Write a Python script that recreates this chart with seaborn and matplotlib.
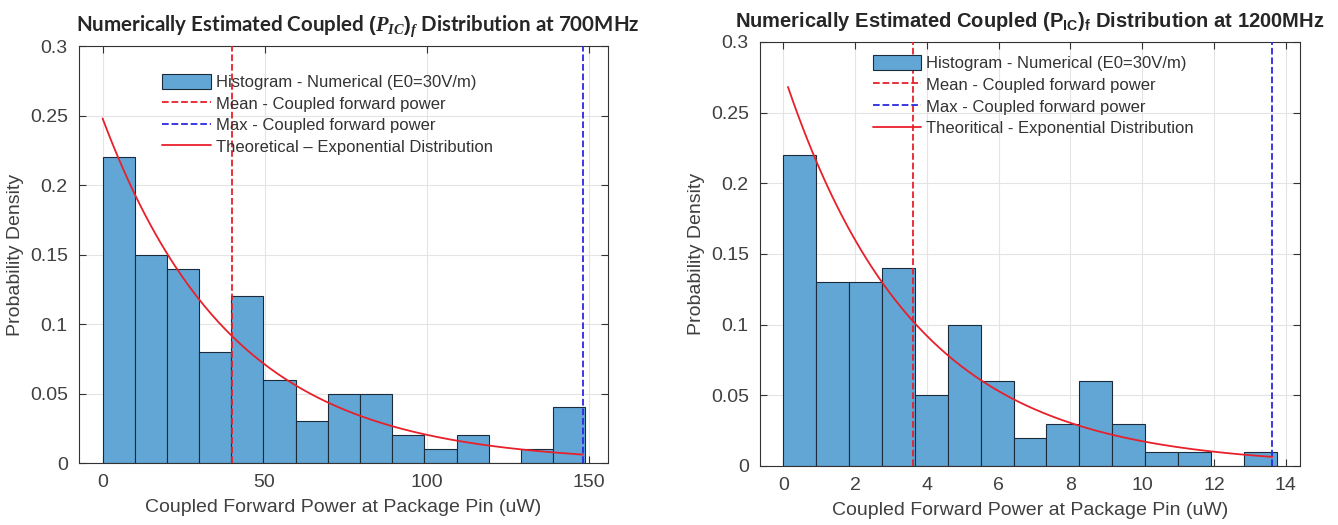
import numpy as np
import pandas as pd
import matplotlib
matplotlib.use('Agg')
import matplotlib.pyplot as plt
import seaborn as sns
from matplotlib.patches import Patch
from matplotlib.lines import Line2D

# values
# 700 MHz panel
p700_heights = [0.22, 0.15, 0.14, 0.08, 0.12, 0.06, 0.03, 0.05, 0.05, 0.02, 0.01, 0.02, 0.0, 0.01, 0.04]
p700_bin_end = 149.0
p700_max = 148.3
p700_mean = 40.0
p700_amp = 0.248      # curve value at x=0
p700_curve_start = 0.0

# 1200 MHz panel
p1200_heights = [0.22, 0.13, 0.13, 0.14, 0.05, 0.10, 0.06, 0.02, 0.03, 0.06, 0.03, 0.01, 0.01, 0.0, 0.01]
p1200_bin_end = 13.75
p1200_max = 13.63
p1200_mean = 3.62
p1200_amp = 0.278
p1200_curve_start = 0.13

legend_labels_700 = ['Histogram - Numerical (E0=30V/m)', 'Mean - Coupled forward power',
                     'Max - Coupled forward power', 'Theoretical \u2013 Exponential Distribution']
legend_labels_1200 = ['Histogram - Numerical (E0=30V/m)', 'Mean - Coupled forward power',
                      'Max - Coupled forward power', 'Theoritical - Exponential Distribution']

title_700 = r'Numerically Estimated Coupled $(P_{IC})_f$ Distribution at 700MHz'
title_1200 = r'Numerically Estimated Coupled $(\mathrm{P}_{\mathrm{IC}})_{\mathrm{f}}$ Distribution at 1200MHz'
xlabel = 'Coupled Forward Power at Package Pin (uW)'
ylabel = 'Probability Density'

sns.set_theme(style='ticks')
plt.rcParams['font.family'] = ['Liberation Sans', 'DejaVu Sans']
plt.rcParams['mathtext.fontset'] = 'custom'
plt.rcParams['mathtext.rm'] = 'Liberation Sans:bold'
plt.rcParams['mathtext.it'] = 'Liberation Serif:italic:bold'
plt.rcParams['mathtext.bf'] = 'Liberation Sans:bold'

bar_color = '#62a6d6'
edge_color = '#1c2b3a'
red = '#e8202a'
blue = '#2a2ae0'
text_gray = '#404040'

fig = plt.figure(figsize=(13.38, 5.25), dpi=100)
ax1 = fig.add_axes([0.059, 0.118, 0.3954, 0.794])
ax2 = fig.add_axes([0.568, 0.1124, 0.4036, 0.8076])


def draw_panel(ax, heights, bin_end, vmax, vmean, amp, cstart, labels, title, xlim, xticks,
               title_font, title_size, title_x, leg_anchor, ylabelpad):
    edges = np.linspace(0, bin_end, len(heights) + 1)
    centers = (edges[:-1] + edges[1:]) / 2
    df = pd.DataFrame({'x': centers, 'w': heights})
    sns.histplot(data=df, x='x', weights='w', bins=list(edges), stat='count', ax=ax,
                 color=bar_color, edgecolor=edge_color, linewidth=0.8, alpha=1.0, zorder=2)
    ax.axvline(vmean, color=red, linestyle='--', linewidth=1.3, zorder=3)
    ax.axvline(vmax, color=blue, linestyle='--', linewidth=1.3, zorder=3)
    xs = np.linspace(cstart, vmax, 200)
    ax.plot(xs, amp * np.exp(-xs / vmean), color=red, linewidth=1.3, zorder=4)

    ax.set_xlim(*xlim)
    ax.set_ylim(0, 0.3)
    ax.set_xticks(xticks)
    ax.set_yticks(np.arange(0, 0.301, 0.05))
    ax.set_yticklabels(['0', '0.05', '0.1', '0.15', '0.2', '0.25', '0.3'])
    ax.grid(True, color='#e4e4e4', linewidth=0.8, zorder=0)
    ax.set_axisbelow(True)
    ax.tick_params(direction='in', top=True, right=True, length=5, width=0.8,
                   labelsize=14, labelcolor=text_gray, color='#333333', pad=8)
    for sp in ax.spines.values():
        sp.set_visible(True)
        sp.set_color('#333333')
        sp.set_linewidth(0.8)
    ax.set_xlabel(xlabel, fontsize=14, color=text_gray, labelpad=6)
    ax.set_ylabel(ylabel, fontsize=14, color=text_gray, labelpad=ylabelpad)
    ax.set_title(title, fontsize=title_size, fontweight='bold', family=title_font, pad=11,
                 x=title_x)

    handles = [Patch(facecolor=bar_color, edgecolor=edge_color, linewidth=0.8),
               Line2D([], [], color=red, linestyle='--', linewidth=1.3),
               Line2D([], [], color=blue, linestyle='--', linewidth=1.3),
               Line2D([], [], color=red, linewidth=1.3)]
    ax.legend(handles, labels, loc='upper left', bbox_to_anchor=leg_anchor, frameon=False,
              fontsize=12, handlelength=2.9, handleheight=1.0, labelspacing=0.33,
              handletextpad=0.3, borderaxespad=0, labelcolor='#333333')


draw_panel(ax1, p700_heights, p700_bin_end, p700_max, p700_mean, p700_amp, p700_curve_start,
           legend_labels_700, title_700, (-7.3, 156), [0, 50, 100, 150],
           ['Lato', 'Liberation Sans'], 14.8, 0.528, (0.145, 0.95), 4)
draw_panel(ax2, p1200_heights, p1200_bin_end, p1200_max, p1200_mean, p1200_amp, p1200_curve_start,
           legend_labels_1200, title_1200, (-0.65, 14.4), [0, 2, 4, 6, 8, 10, 12, 14],
           ['Liberation Sans'], 14.5, 0.5, (0.197, 0.985), 4)

fig.savefig('out.png', dpi=100)
